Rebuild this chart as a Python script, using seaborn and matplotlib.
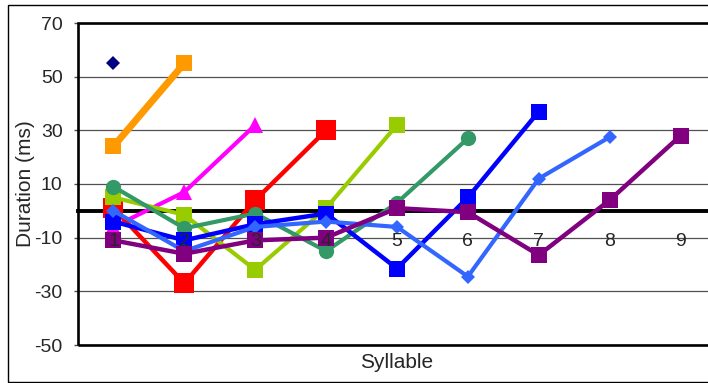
import matplotlib
matplotlib.use('agg')
import matplotlib.pyplot as plt
import matplotlib.patches as mpatches
import seaborn as sns
import numpy as np

# syllable positions and series values (ms)
SYLLABLES = [1, 2, 3, 4, 5, 6, 7, 8, 9]
SYL_LABELS = ['1', '2', '3', '4', '5', '6', '7', '8', '9']
Y_TICKS = [-50, -30, -10, 10, 30, 50, 70]

NAVY = [55]
ORANGE = [24, 55]
MAGENTA = [-6, 7, 32]
RED = [1, -27, 4, 30]
LIME = [5, -1.5, -22, 1, 32]
GREEN = [9, -6.5, -1, -15, 3, 27]
BLUE = [-4, -11, -5, -1, -21.5, 5, 37]
LIGHTBLUE = [0, -15, -6, -4, -6, -24.5, 12, 27.5]
PURPLE = [-11, -16, -11, -10, 1, -0.5, -16.5, 4, 28]

# (values, colour, marker, markersize, linewidth)
SERIES = [
    (NAVY, '#000080', 'D', 7.5, 3),
    (ORANGE, '#FF9900', 's', 11, 5),
    (MAGENTA, '#FF00FF', '^', 11.5, 3),
    (RED, '#FF0000', 's', 14.5, 3.2),
    (LIME, '#99CC00', 's', 11, 3),
    (GREEN, '#339966', 'o', 11, 3),
    (BLUE, '#0000FF', 's', 11, 3.2),
    (LIGHTBLUE, '#3366FF', 'D', 7.5, 3),
    (PURPLE, '#800080', 's', 11, 3.2),
]


def setup():
    sns.set_style("white")
    matplotlib.rcParams['font.family'] = ['Liberation Sans', 'DejaVu Sans']
    matplotlib.rcParams['axes.unicode_minus'] = False


setup()

fig = plt.figure(figsize=(7.08, 3.83), dpi=100)
ax = fig.add_axes([78 / 708, 38 / 383, 638 / 708, 322 / 383])

for i, (vals, col, mk, ms, lw) in enumerate(SERIES):
    sns.lineplot(x=SYLLABLES[:len(vals)], y=vals, color=col, marker=mk,
                 markersize=ms, markeredgewidth=0, linewidth=lw,
                 ax=ax, zorder=3 + i * 0.1)

ax.set_xlim(0.5, len(SYLLABLES) + 0.5)
ax.set_ylim(-50, 70)
ax.set_yticks(Y_TICKS)
ax.yaxis.grid(True, color='#505050', linewidth=0.9)
ax.xaxis.grid(False)

# zero line acts as the category axis
ax.spines['bottom'].set_position(('data', 0))
ax.spines['bottom'].set_linewidth(2.8)
ax.spines['bottom'].set_color('black')
for s in ['top', 'right', 'left']:
    ax.spines[s].set_visible(False)

bounds = np.arange(0.5, len(SYLLABLES) + 0.5, 1)
ax.set_xticks(bounds)
ax.set_xticklabels([])
ax.set_xticks(SYLLABLES, minor=True)
ax.set_xticklabels(SYL_LABELS, minor=True)
ax.tick_params(axis='x', which='major', direction='in', length=5.5, width=2.5,
               color='black')
ax.tick_params(axis='x', which='minor', length=0, pad=16, labelsize=14)
ax.tick_params(axis='y', direction='out', length=3, width=1, color='#505050',
               pad=8, labelsize=14, left=True)
ax.xaxis.set_zorder(10)

frame = mpatches.Rectangle((0, 0), 1, 1, transform=ax.transAxes, fill=False,
                           edgecolor='black', linewidth=1.9, clip_on=False,
                           zorder=12)
ax.add_patch(frame)

ax.set_xlabel('Syllable', fontsize=15, va='top')
ax.xaxis.set_label_coords(0.5, -0.025)
ax.set_ylabel('Duration (ms)', fontsize=15)
ax.yaxis.set_label_coords(-0.067, 0.5)

outer = mpatches.Rectangle((8 / 708, 1.5 / 383), 1.0, 376.5 / 383,
                           transform=fig.transFigure, fill=False,
                           edgecolor='black', linewidth=1)
fig.patches.append(outer)

fig.savefig('out.png', dpi=100)
